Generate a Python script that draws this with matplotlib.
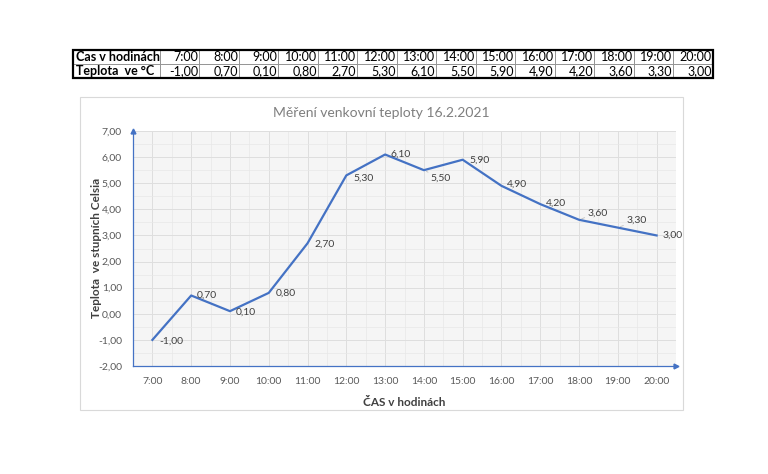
import matplotlib.pyplot as plt
import matplotlib.patches as patches
from matplotlib.ticker import FuncFormatter, MultipleLocator

hours = ["7:00", "8:00", "9:00", "10:00", "11:00", "12:00", "13:00",
         "14:00", "15:00", "16:00", "17:00", "18:00", "19:00", "20:00"]
temps = [-1.0, 0.7, 0.1, 0.8, 2.7, 5.3, 6.1, 5.5, 5.9, 4.9, 4.2, 3.6, 3.3, 3.0]

title = "Měření venkovní teploty 16.2.2021"
xlabel = "ČAS v hodinách"
ylabel = "Teplota  ve stupních Celsia"

plt.rcParams['font.family'] = ['Lato', 'DejaVu Sans']

BLUE = '#4472C4'
W, H = 768, 474


def cz(v):
    return f"{v:.2f}".replace('.', ',')


fig = plt.figure(figsize=(W / 100, H / 100), dpi=100)

# --- table on top ---
tax = fig.add_axes([73 / W, 1 - 78 / H, 640 / W, 28 / H])
tax.axis('off')
rows = [["Čas v hodinách"] + hours, ["Teplota  ve °C"] + [cz(t) for t in temps]]
first = 87
rest = (640 - first) / len(hours)
widths = [first / 640] + [rest / 640] * len(hours)
tbl = tax.table(cellText=rows, colWidths=widths, bbox=[0, 0, 1, 1])
tbl.auto_set_font_size(False)
for (r, c), cell in tbl.get_celld().items():
    cell.set_fontsize(9)
    cell.set_edgecolor('#8c8c8c')
    cell.set_linewidth(0.6)
    cell.PAD = 0.03
    if c == 0:
        cell._loc = 'left'
        cell.get_text().set_ha('left')
        cell.get_text().set_fontweight('bold')
    else:
        cell._loc = 'right'
        cell.get_text().set_ha('right')
tax.add_patch(patches.Rectangle((0, 0), 1, 1, transform=tax.transAxes,
                                fill=False, edgecolor='black', lw=1.6, clip_on=False))

# --- chart frame ---
fig.patches.append(patches.Rectangle((80 / W, 1 - 410 / H), 603 / W, 313 / H,
                                     transform=fig.transFigure, fill=False,
                                     edgecolor='#d9d9d9', lw=0.8))

ax = fig.add_axes([133 / W, 1 - 366 / H, 543 / W, 235 / H])
ax.set_facecolor('#f5f5f5')
x = range(len(hours))
ax.plot(x, temps, color=BLUE, lw=1.6, zorder=3)
ax.set_xlim(-0.5, len(hours) - 0.5)
ax.set_ylim(-2, 7)
ax.set_xticks(list(x))
ax.set_xticklabels(hours)
ax.yaxis.set_major_locator(MultipleLocator(1))
ax.yaxis.set_major_formatter(FuncFormatter(lambda v, p: cz(v)))
ax.xaxis.set_minor_locator(MultipleLocator(0.5))
ax.yaxis.set_minor_locator(MultipleLocator(0.5))
ax.grid(which='major', color='#dedede', lw=0.7)
ax.grid(which='minor', color='#e8e8e8', lw=0.5)
ax.set_axisbelow(True)
ax.tick_params(which='both', length=0, labelsize=7.5, colors='#595959', pad=8)

for s in ['top', 'right']:
    ax.spines[s].set_visible(False)
for s in ['left', 'bottom']:
    ax.spines[s].set_color(BLUE)
    ax.spines[s].set_linewidth(0.9)
ax.plot(1, 0, '>', color=BLUE, ms=3.5, transform=ax.transAxes, clip_on=False)
ax.plot(0, 1, '^', color=BLUE, ms=3.5, transform=ax.transAxes, clip_on=False)

# label offsets in points (style only)
offsets = [(5, -1), (4, 0), (4, -1), (5, 0), (5, -1), (5, -2), (4, 0),
           (5, -6), (5, 0), (4, 1), (4, 1), (6, 5), (6, 5), (4, 0)]
leaders = {7, 11, 12}
for i, t in enumerate(temps):
    arrow = dict(arrowstyle='-', color='#bfbfbf', lw=0.6,
                 shrinkA=0, shrinkB=2) if i in leaders else None
    ax.annotate(cz(t), (i, t), xytext=offsets[i], textcoords='offset points',
                ha='left', va='center', fontsize=7.5, color='#404040', zorder=4,
                arrowprops=arrow)

fig.text(381 / W, 1 - 113 / H, title, ha='center', va='center',
         fontsize=10, color='#7f7f7f')
fig.text(404 / W, 1 - 402 / H, xlabel, ha='center', va='center',
         fontsize=8.5, fontweight='bold', color='#404040')
fig.text(97 / W, 1 - 248 / H, ylabel, ha='center', va='center', rotation=90,
         fontsize=8.5, fontweight='bold', color='#404040')

fig.savefig('out.png', dpi=100, facecolor='white')
